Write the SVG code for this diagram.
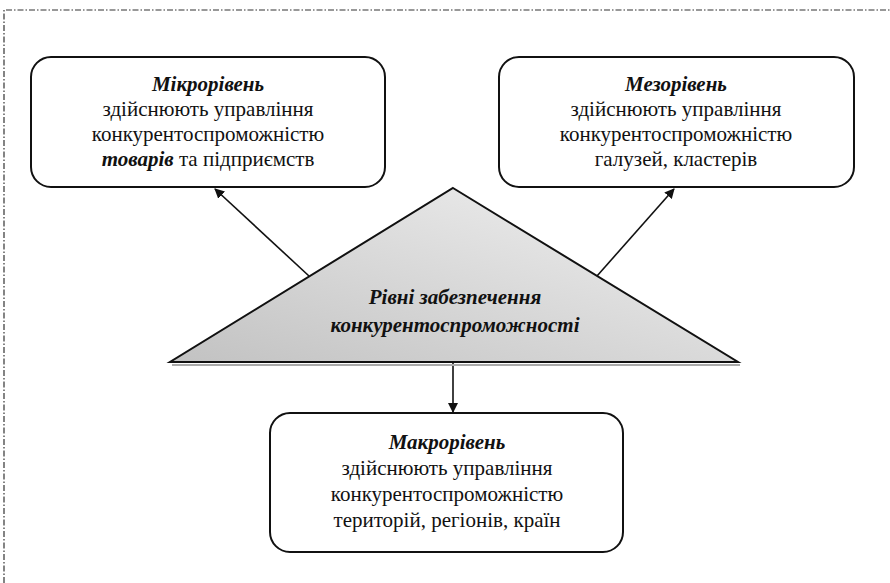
<svg xmlns="http://www.w3.org/2000/svg" width="890" height="583" viewBox="0 0 890 583">
<style>
.box{fill:#fff;stroke:#111;stroke-width:2}
text{font-family:'Liberation Serif','Times New Roman',serif;font-size:21px;fill:#111;text-anchor:middle}
.b{font-weight:bold;font-style:italic}
.c{stroke:#111;stroke-width:1.6;fill:none;marker-end:url(#ah)}
</style>
<defs>
<marker id="ah" markerWidth="10" markerHeight="10" refX="9" refY="5" orient="auto" markerUnits="userSpaceOnUse">
<path d="M0,0 L10,5 L0,10 Z" fill="#111"/>
</marker>
<linearGradient id="g" x1="1" y1="0" x2="0" y2="1">
<stop offset="0" stop-color="#f2f2f2"/>
<stop offset="1" stop-color="#c2c2c2"/>
</linearGradient>
</defs>
<rect width="890" height="583" fill="#fff"/>
<path d="M4,583 V10 H890" fill="none" stroke="#333" stroke-width="1.2" stroke-dasharray="6,2,1.5,2"/>
<g id="connectors">
<line class="c" x1="309" y1="276" x2="215" y2="189"/>
<line class="c" x1="597" y1="276" x2="674" y2="189"/>
<line class="c" x1="453" y1="363" x2="453" y2="412"/>
</g>
<g id="micro">
<rect class="box" x="31" y="57" width="354" height="130" rx="20"/>
<text class="b" x="208" y="91">Мікрорівень</text>
<text x="208" y="116">здійснюють управління</text>
<text x="208" y="141">конкурентоспроможністю</text>
<text x="208" y="166"><tspan class="b">товарів</tspan> та підприємств</text>
</g>
<g id="meso">
<rect class="box" x="499" y="57" width="355" height="130" rx="20"/>
<text class="b" x="676" y="91">Мезорівень</text>
<text x="676" y="116">здійснюють управління</text>
<text x="676" y="141">конкурентоспроможністю</text>
<text x="676" y="166">галузей, кластерів</text>
</g>
<g id="levels">
<line x1="172" y1="365" x2="740" y2="365" stroke="#aaa" stroke-width="2"/>
<polygon points="453,188 738,362 170,362" fill="url(#g)" stroke="#111" stroke-width="2"/>
<text class="b" x="455" y="304" font-size="22">Рівні забезпечення</text>
<text class="b" x="455" y="332" font-size="22">конкурентоспроможності</text>
</g>
<g id="macro">
<rect class="box" x="270" y="413" width="353" height="139" rx="20"/>
<text class="b" x="447" y="449">Макрорівень</text>
<text x="447" y="475">здійснюють управління</text>
<text x="447" y="501">конкурентоспроможністю</text>
<text x="447" y="527">територій, регіонів, країн</text>
</g>
</svg>
